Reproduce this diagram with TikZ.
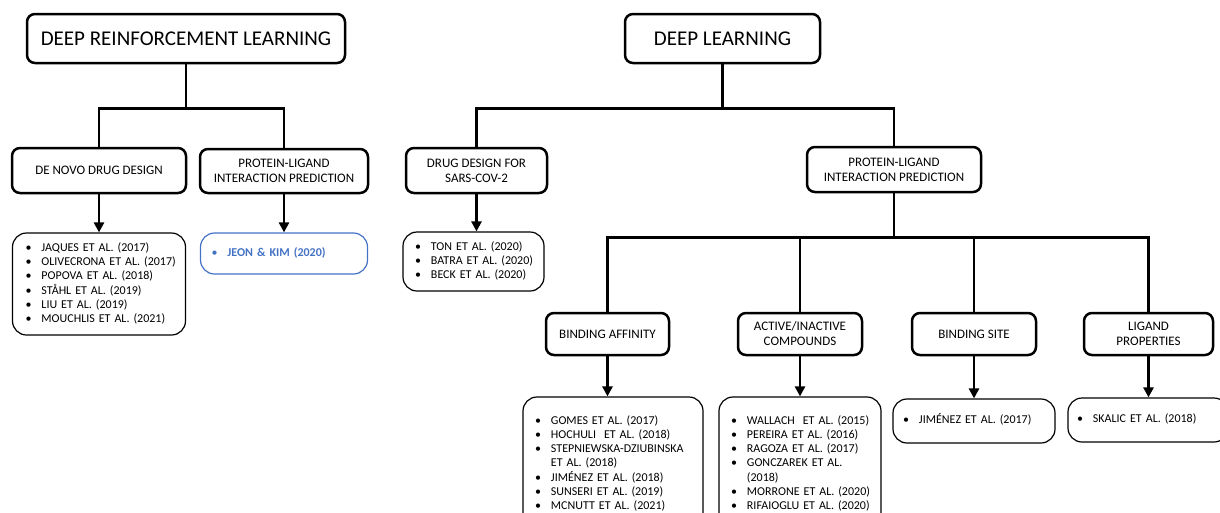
\documentclass[tikz,border=0pt]{standalone}
\usepackage{fontspec}
\setmainfont{Carlito}
\usetikzlibrary{positioning,arrows.meta}
\definecolor{jeonblue}{RGB}{68,114,196}
\newcommand{\reflist}[1]{\noindent\begin{tabular}{@{}l@{\hspace{10pt}}l@{}}#1\end{tabular}}

\begin{document}
\begin{tikzpicture}[x=1pt,y=-1pt]
  \tikzset{HeadStyle/.style={draw,line width=2.5pt,rounded corners=8pt,align=center,inner sep=0pt,font=\fontsize{13}{15}\selectfont}}
  \tikzset{TopStyle/.style={HeadStyle,font=\fontsize{21}{25}\selectfont}}
  \tikzset{ListStyle/.style={draw,line width=1.2pt,rounded corners=14pt,inner ysep=0pt,align=left,font=\fontsize{12}{14.2}\selectfont}}
  \tikzset{EdgeStyle/.style={line width=2.5pt}}
  \tikzset{ArrowStyle/.style={EdgeStyle,-{Triangle[length=10pt,width=10pt]}}}

  \useasboundingbox (0,0) rectangle (1220,512);

  % deep reinforcement learning
  \node[TopStyle,minimum width=318pt,minimum height=49pt] (drl) at (186,38.5) {DEEP REINFORCEMENT LEARNING};
  \node[HeadStyle,minimum width=174pt,minimum height=45pt] (dnd) at (99,170.5) {DE NOVO DRUG DESIGN};
  \node[HeadStyle,minimum width=168pt,minimum height=44pt] (pli1) at (284,171) {PROTEIN-LIGAND\\INTERACTION PREDICTION};
  \node[ListStyle,text width=147pt,inner xsep=13pt,minimum height=102pt] (dndl) at (99,284) {\reflist{
    \textbullet & JAQUES ET AL. (2017)\\
    \textbullet & OLIVECRONA ET AL. (2017)\\
    \textbullet & POPOVA ET AL. (2018)\\
    \textbullet & STÅHL ET AL. (2019)\\
    \textbullet & LIU ET AL. (2019)\\
    \textbullet & MOUCHLIS ET AL. (2021)}};
  \node[ListStyle,draw=jeonblue,text=jeonblue,text width=145pt,inner xsep=11pt,minimum height=41pt] (jeon) at (284,253.5) {\reflist{\textbullet & \textbf{JEON \& KIM (2020)}}};

  % deep learning
  \node[TopStyle,minimum width=195pt,minimum height=49pt] (dl) at (722.5,38.5) {DEEP LEARNING};
  \node[HeadStyle,minimum width=141pt,minimum height=45pt] (sars) at (476.5,170.5) {DRUG DESIGN FOR\\SARS-COV-2};
  \node[HeadStyle,minimum width=174pt,minimum height=45pt] (pli2) at (894,169.5) {PROTEIN-LIGAND\\INTERACTION PREDICTION};
  \node[ListStyle,text width=117pt,inner xsep=12pt,minimum height=59pt] (sarsl) at (473.5,261.5) {\reflist{
    \textbullet & TON ET AL. (2020)\\
    \textbullet & BATRA ET AL. (2020)\\
    \textbullet & BECK ET AL. (2020)}};

  \node[HeadStyle,minimum width=123pt,minimum height=42pt] (ba) at (607.5,334) {BINDING AFFINITY};
  \node[HeadStyle,minimum width=124pt,minimum height=42pt] (ai) at (800,334) {ACTIVE/INACTIVE\\COMPOUNDS};
  \node[HeadStyle,minimum width=124pt,minimum height=42pt] (bs) at (974,334) {BINDING SITE};
  \node[HeadStyle,minimum width=129pt,minimum height=42pt] (lp) at (1148.5,334) {LIGAND\\PROPERTIES};

  \node[ListStyle,text width=156pt,inner xsep=12pt,minimum height=134pt] (bal) at (613,464) {\reflist{
    \textbullet & GOMES ET AL. (2017)\\
    \textbullet & HOCHULI\ \ ET AL. (2018)\\
    \textbullet & STEPNIEWSKA-DZIUBINSKA\\
                & ET AL. (2018)\\
    \textbullet & JIMÉNEZ ET AL. (2018)\\
    \textbullet & SUNSERI ET AL. (2019)\\
    \textbullet & MCNUTT ET AL. (2021)}};
  \node[ListStyle,text width=138pt,inner xsep=12pt,minimum height=134pt] (ail) at (800,464) {\reflist{
    \textbullet & WALLACH\ \ ET AL. (2015)\\
    \textbullet & PEREIRA ET AL. (2016)\\
    \textbullet & RAGOZA ET AL. (2017)\\
    \textbullet & GONCZAREK ET AL.\\
                & (2018)\\
    \textbullet & MORRONE ET AL. (2020)\\
    \textbullet & RIFAIOGLU ET AL. (2020)}};
  \node[ListStyle,text width=142pt,inner xsep=10pt,minimum height=44pt] (bsl) at (974,421) {\reflist{\textbullet & JIMÉNEZ ET AL. (2017)}};
  \node[ListStyle,text width=142pt,inner xsep=9pt,minimum height=44pt] (lpl) at (1148,420) {\reflist{\textbullet & SKALIC ET AL. (2018)}};

  % tree edges
  \draw[EdgeStyle] (drl.south) -- ++(0,44) -| (dnd.north);
  \draw[EdgeStyle] (drl.south) -- ++(0,44) -| (pli1.north);
  \draw[EdgeStyle] (dl.south) -- ++(0,44) -| (sars.north);
  \draw[EdgeStyle] (dl.south) -- ++(0,44) -| (pli2.north);
  \foreach \n in {ba,ai,bs,lp}
    \draw[EdgeStyle] (pli2.south) -- ++(0,44) -| (\n.north);

  % arrows to the reference lists
  \draw[ArrowStyle] (dnd.south) -- (dnd.south |- dndl.north);
  \draw[ArrowStyle] (pli1.south) -- (pli1.south |- jeon.north);
  \draw[ArrowStyle] (sars.south) -- (sars.south |- sarsl.north);
  \draw[ArrowStyle] (ba.south) -- (ba.south |- bal.north);
  \draw[ArrowStyle] (ai.south) -- (ai.south |- ail.north);
  \draw[ArrowStyle] (bs.south) -- (bs.south |- bsl.north);
  \draw[ArrowStyle] (lp.south) -- (lp.south |- lpl.north);
\end{tikzpicture}
\end{document}
